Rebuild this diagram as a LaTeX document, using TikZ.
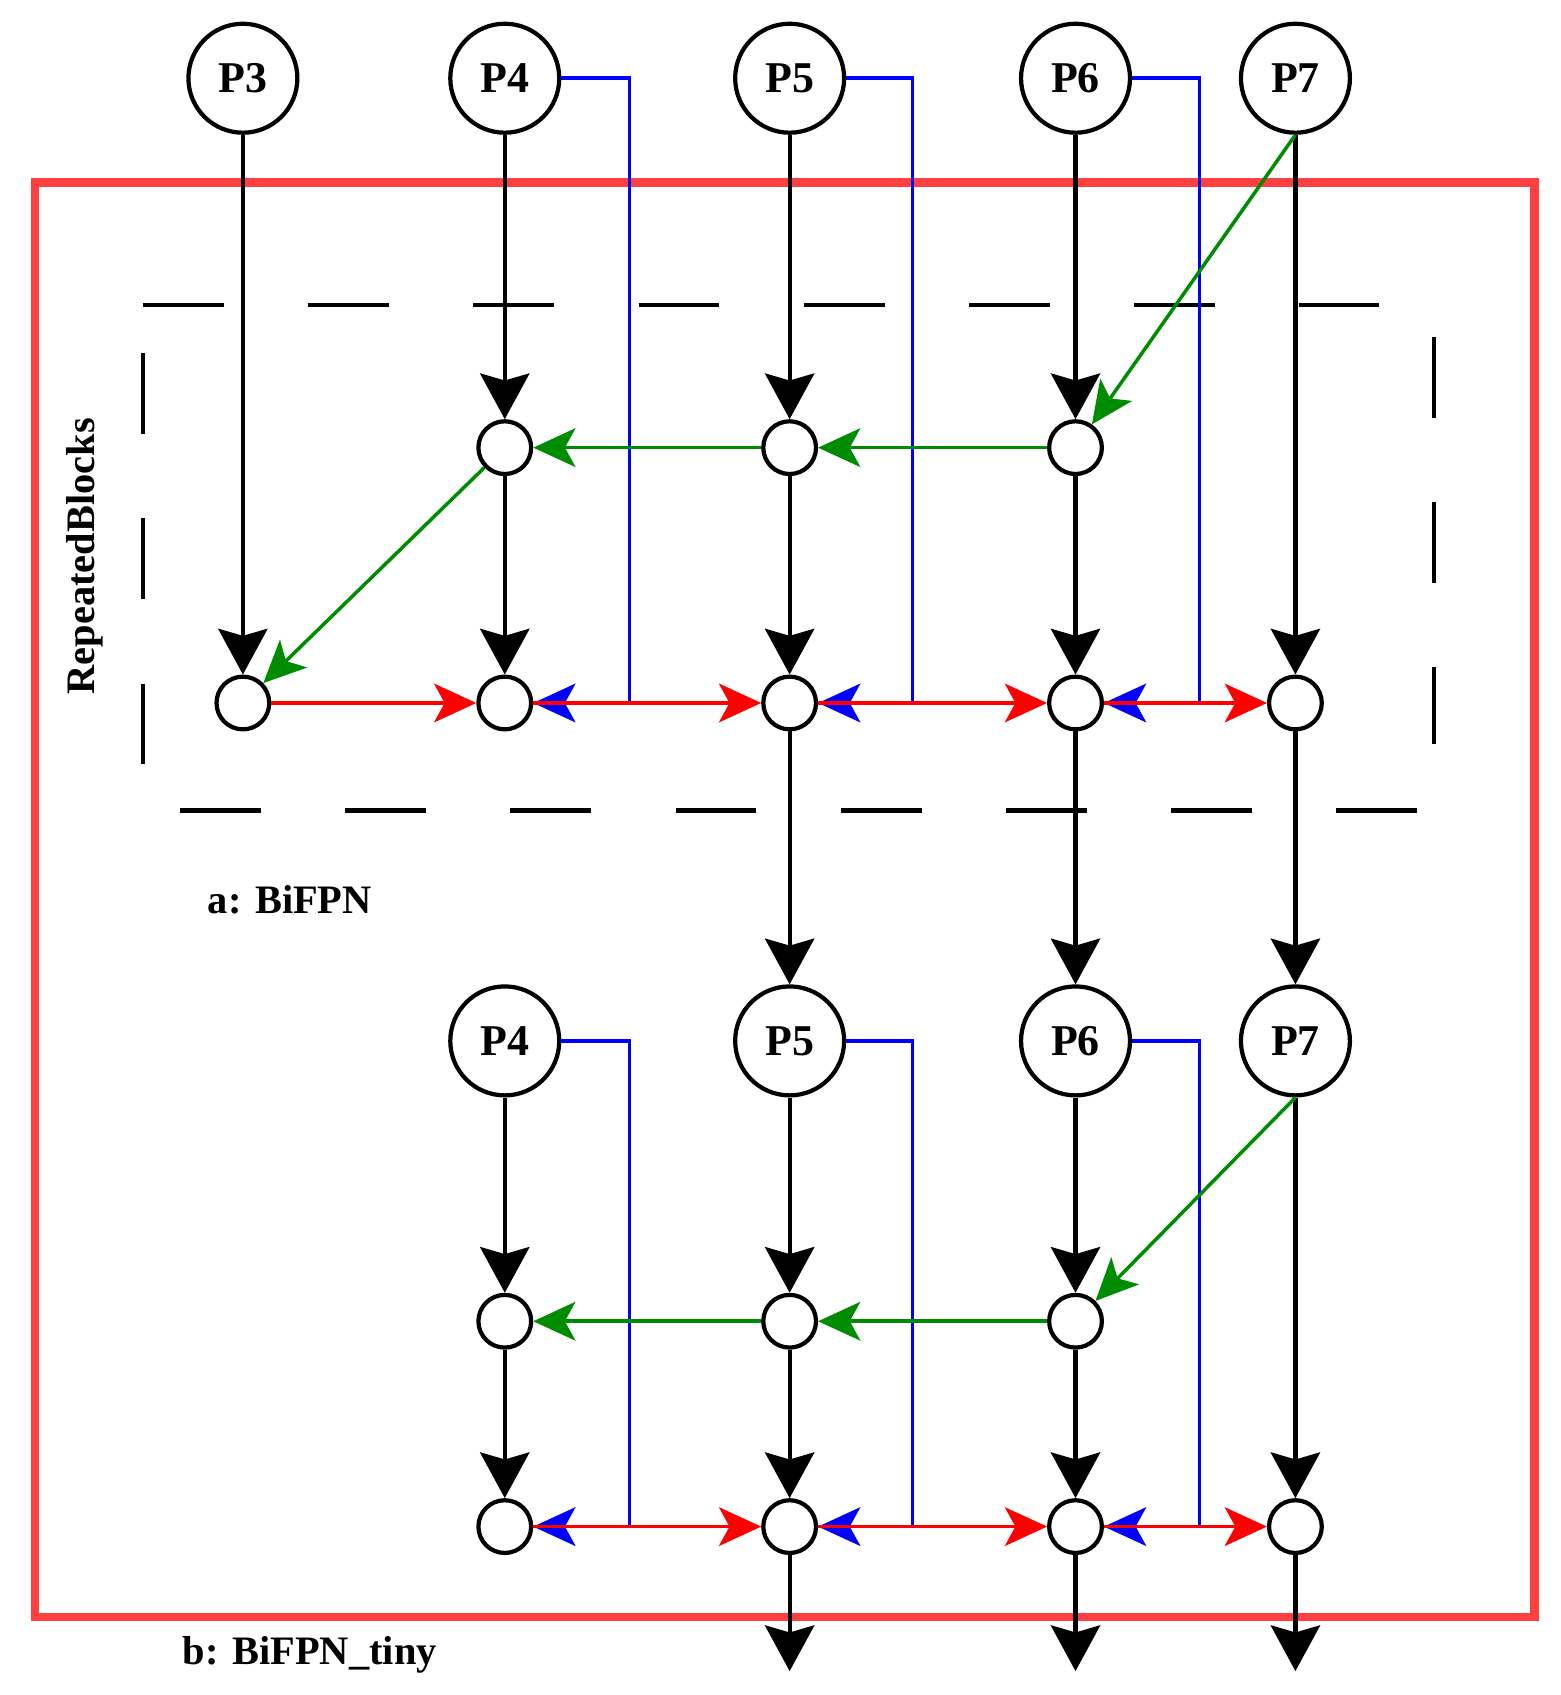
\documentclass[tikz,border=0pt]{standalone}
\usepackage{fontspec}
\setmainfont{Liberation Serif}
\usetikzlibrary{arrows.meta,shapes.geometric}
\begin{document}
\begin{tikzpicture}[x=0.01cm,y=-0.010865cm,
 big/.style={circle,draw,line width=1.2pt,minimum size=31pt,inner sep=0pt,font=\bfseries\fontsize{12.5}{14}\selectfont},
 sm/.style={circle,draw,line width=1.2pt,minimum size=15pt,inner sep=0pt},
 blk/.style={line width=1.2pt,-{Stealth[length=13pt,width=14pt,inset=2pt]}},
 grn/.style={draw=green!55!black,line width=1pt,-{Stealth[length=12pt,width=11pt,inset=3pt]}},
 red/.style={draw=red,line width=1pt,-{Stealth[length=12pt,width=11pt,inset=3pt]}},
 blu/.style={draw=blue,line width=1pt},
 blutip/.style={draw=blue,line width=1pt,-{Stealth[length=12pt,width=11pt,inset=3pt]}},
 dsh/.style={line width=1.2pt,dash pattern=on 23pt off 24pt},
 lab/.style={font=\bfseries\fontsize{11.5}{13}\selectfont}]
\useasboundingbox (0,0) rectangle (1561,1560);
\draw[draw=red!75,line width=2.4pt] (35,168) rectangle (1535,1488);
\draw[dsh] (143,281) -- (1380,281);
\draw[dsh] (180,746) -- (1420,746);
\draw[dsh] (143,325) -- (143,705);
\draw[dsh] (1435,310) -- (1435,685);
\node[lab,rotate=90] (rb) at (85,512) {RepeatedBlocks};
\node[lab] (la) at (290,828) {a: BiFPN};
\node[lab] (lb) at (310,1523) {b: BiFPN\_tiny};
% top
\node[big] (P3) at (243,72) {P3};
\node[big] (P4) at (505,72) {P4};
\node[big] (P5) at (790,72) {P5};
\node[big] (P6) at (1076,72) {P6};
\node[big] (P7) at (1296,72) {P7};
\node[sm] (m4) at (505,412) {};
\node[sm] (m5) at (790,412) {};
\node[sm] (m6) at (1076,412) {};
\node[sm] (l3) at (243,647) {};
\node[sm] (l4) at (505,647) {};
\node[sm] (l5) at (790,647) {};
\node[sm] (l6) at (1076,647) {};
\node[sm] (l7) at (1296,647) {};
\node[big] (Q4) at (505,958) {P4};
\node[big] (Q5) at (790,958) {P5};
\node[big] (Q6) at (1076,958) {P6};
\node[big] (Q7) at (1296,958) {P7};
\node[sm] (n4) at (505,1216) {};
\node[sm] (n5) at (790,1216) {};
\node[sm] (n6) at (1076,1216) {};
\node[sm] (k4) at (505,1405) {};
\node[sm] (k5) at (790,1405) {};
\node[sm] (k6) at (1076,1405) {};
\node[sm] (k7) at (1296,1405) {};
\coordinate (e5) at (790,1538);
\coordinate (e6) at (1076,1538);
\coordinate (e7) at (1296,1538);
\coordinate (j4) at (630,647); \coordinate (j5) at (913,647); \coordinate (j6) at (1200,647);
\coordinate (i4) at (630,1405); \coordinate (i5) at (913,1405); \coordinate (i6) at (1200,1405);
% blue
\foreach \a/\j/\t in {P4/j4/l4,P5/j5/l5,P6/j6/l6,Q4/i4/k4,Q5/i5/k5,Q6/i6/k6}{
 \draw[blu] (\a.east) -| (\j);
 \draw[blutip] (\j) -- (\t);
}
% black verticals
\draw[blk] (P3) -- (l3);
\draw[blk] (P4) -- (m4); \draw[blk] (m4) -- (l4);
\draw[blk] (P5) -- (m5); \draw[blk] (m5) -- (l5); \draw[blk] (l5) -- (Q5);
\draw[blk] (P6) -- (m6); \draw[blk] (m6) -- (l6); \draw[blk] (l6) -- (Q6);
\draw[blk] (P7) -- (l7); \draw[blk] (l7) -- (Q7);
\draw[blk] (Q4) -- (n4); \draw[blk] (n4) -- (k4);
\draw[blk] (Q5) -- (n5); \draw[blk] (n5) -- (k5); \draw[blk] (k5) -- (e5);
\draw[blk] (Q6) -- (n6); \draw[blk] (n6) -- (k6); \draw[blk] (k6) -- (e6);
\draw[blk] (Q7) -- (k7); \draw[blk] (k7) -- (e7);
% green
\draw[grn] (P7.south) -- (m6);
\draw[grn] (m6) -- (m5); \draw[grn] (m5) -- (m4); \draw[grn] (m4) -- (l3);
\draw[grn] (Q7.south) -- (n6);
\draw[grn] (n6) -- (n5); \draw[grn] (n5) -- (n4);
% red
\draw[red] (l3) -- (l4); \draw[red] (l4) -- (l5); \draw[red] (l5) -- (l6); \draw[red] (l6) -- (l7);
\draw[red] (k4) -- (k5); \draw[red] (k5) -- (k6); \draw[red] (k6) -- (k7);
\end{tikzpicture}
\end{document}
